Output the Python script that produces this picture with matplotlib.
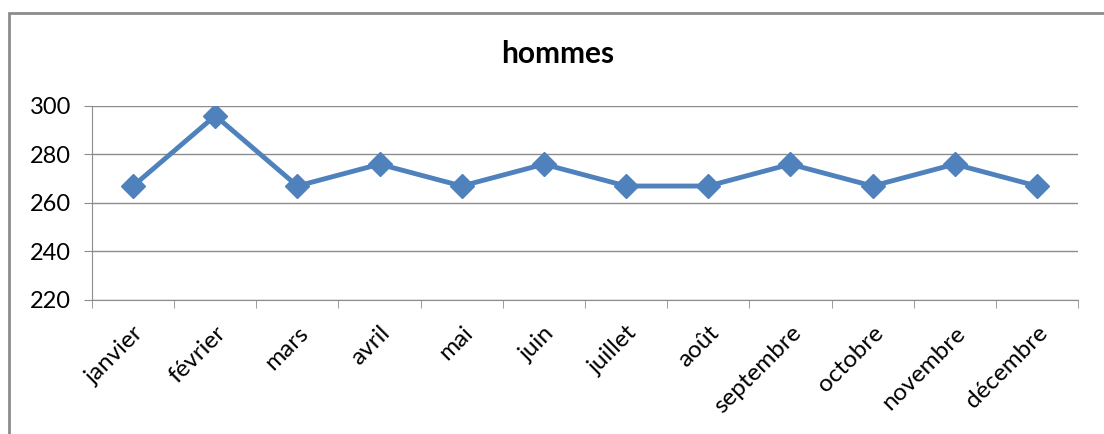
import numpy as np
import matplotlib.pyplot as plt
from matplotlib.patches import Rectangle

mois = ["janvier", "février", "mars", "avril", "mai", "juin", "juillet",
        "août", "septembre", "octobre", "novembre", "décembre"]
hommes = [267, 296, 267, 276, 267, 276, 267, 267, 276, 267, 276, 267]
yticks = [220, 240, 260, 280, 300]

plt.rcParams["font.family"] = ["Lato", "DejaVu Sans"]

fig = plt.figure(figsize=(11.04, 4.34), dpi=100)
# chart frame (Excel style)
fig.patches.append(Rectangle((9 / 1104, -0.1), 1.2, 1 - 13 / 434 + 0.1,
                             transform=fig.transFigure, fill=False,
                             edgecolor="#8c8c8c", linewidth=2))

ax = fig.add_axes([92 / 1104, 1 - 300 / 434, (1078 - 92) / 1104, (300 - 106) / 434])
x = np.arange(len(mois))
ax.plot(x, hommes, color="#4f81bd", linewidth=3.5, marker="D", markersize=12.5,
        zorder=3)

ax.set_xlim(-0.5, len(mois) - 0.5)
ax.set_ylim(220, 300)
ax.set_yticks(yticks)
ax.set_yticklabels([str(v) for v in yticks], fontsize=17)
ax.set_xticks(x)
ax.set_xticklabels(mois, fontsize=17.5, rotation=45, ha="right",
                   rotation_mode="anchor")
ax.set_xticks(np.arange(-0.5, len(mois)), minor=True)
ax.tick_params(axis="x", which="major", length=0, pad=16)
ax.tick_params(axis="x", which="minor", length=6, color="#8c8c8c", direction="out")
ax.tick_params(axis="y", length=6, color="#8c8c8c", pad=9)

ax.grid(axis="y", color="#8c8c8c", linewidth=1)
ax.set_axisbelow(True)
for s in ["top", "right"]:
    ax.spines[s].set_visible(False)
for s in ["left", "bottom"]:
    ax.spines[s].set_color("#8c8c8c")

fig.text(558 / 1104, 1 - 54 / 434, "hommes", ha="center", va="center",
         fontsize=21.5, fontweight="bold")

fig.savefig("out.png", dpi=100)
